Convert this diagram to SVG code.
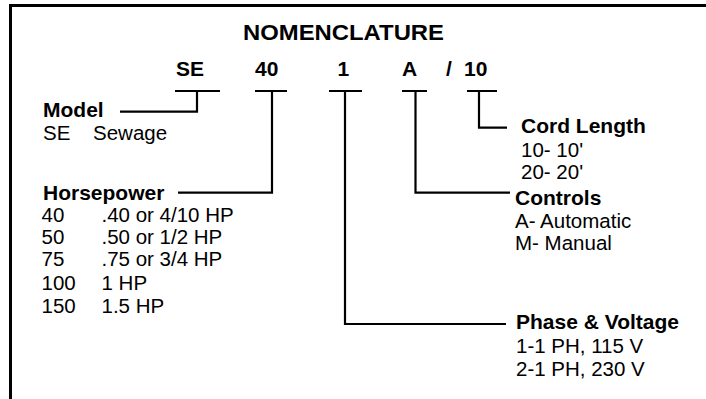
<svg xmlns="http://www.w3.org/2000/svg" width="706" height="399" viewBox="0 0 706 399">
<style>
text{font-family:"Liberation Sans",Arial,sans-serif;fill:#000}
.b{font-weight:bold;font-size:21px}
.r{font-size:20.5px}
.t{font-weight:bold;font-size:22px}
.ln{stroke:#000;stroke-width:2.2;fill:none}
.frame{stroke:#000;stroke-width:3;fill:none}
</style>
<rect width="706" height="399" fill="#fff"/>
<path class="frame" d="M10.5 399 V5.5 H706"/>
<g id="title">
<text class="t" x="243" y="40" textLength="201" lengthAdjust="spacingAndGlyphs">NOMENCLATURE</text>
</g>
<g id="code">
<text class="b" x="176" y="76">SE</text>
<text class="b" x="255" y="76">40</text>
<text class="b" x="337.5" y="76">1</text>
<text class="b" x="402" y="76">A</text>
<text class="b" x="446" y="76">/</text>
<text class="b" x="464" y="76">10</text>
</g>
<g id="connectors">
<path class="ln" d="M175 91 H220 M197 91 V111.7 H120"/>
<path class="ln" d="M255 91 H287 M272 91 V192.7 H178"/>
<path class="ln" d="M329 91 H362 M345 91 V324 H506"/>
<path class="ln" d="M402 91 H427 M415.5 91 V192.7 H510"/>
<path class="ln" d="M467 91 H497 M479 91 V127.7 H507"/>
</g>
<g id="model">
<text class="b" x="43" y="116.5">Model</text>
<text class="r" x="43" y="140">SE</text>
<text class="r" x="93" y="140">Sewage</text>
</g>
<g id="horsepower">
<text class="b" x="43" y="199.5">Horsepower</text>
<text class="r" x="41.5" y="221.5">40</text><text class="r" x="101.5" y="221.5">.40 or 4/10 HP</text>
<text class="r" x="41.5" y="244">50</text><text class="r" x="101.5" y="244">.50 or 1/2 HP</text>
<text class="r" x="41.5" y="266">75</text><text class="r" x="101.5" y="266">.75 or 3/4 HP</text>
<text class="r" x="41.5" y="290">100</text><text class="r" x="101.5" y="290">1 HP</text>
<text class="r" x="41.5" y="312.5">150</text><text class="r" x="101.5" y="312.5">1.5 HP</text>
</g>
<g id="cord">
<text class="b" x="521" y="133">Cord Length</text>
<text class="r" x="521" y="156.5">10- 10'</text>
<text class="r" x="521" y="179">20- 20'</text>
</g>
<g id="controls">
<text class="b" x="515" y="205">Controls</text>
<text class="r" x="515" y="228">A- Automatic</text>
<text class="r" x="515" y="250">M- Manual</text>
</g>
<g id="phase">
<text class="b" x="516" y="329">Phase &amp; Voltage</text>
<text class="r" x="516" y="352.5">1-1 PH, 115 V</text>
<text class="r" x="516" y="375.5">2-1 PH, 230 V</text>
</g>
</svg>
